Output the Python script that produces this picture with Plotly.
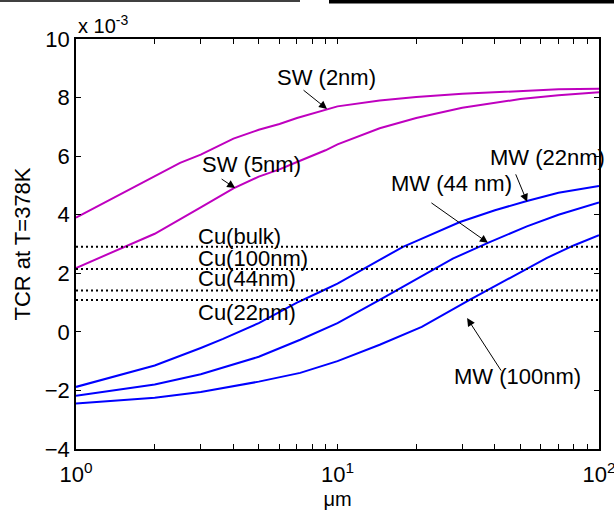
import math
import plotly.graph_objects as go

# x positions (um), y values in units of 1e-3
x_sw2 = [1, 2, 2.5, 3, 4, 5, 6, 7, 9, 10, 14.5, 20, 30, 50, 70, 100]
y_sw2 = [3.9, 5.3, 5.77, 6.05, 6.6, 6.9, 7.1, 7.3, 7.6, 7.7, 7.9, 8.02, 8.13, 8.23, 8.28, 8.3]

x_sw5 = [1, 2, 3, 4, 5, 6, 7, 9, 10, 14.5, 20, 30, 50, 70, 100]
y_sw5 = [2.18, 3.35, 4.25, 4.9, 5.3, 5.55, 5.8, 6.2, 6.4, 6.95, 7.3, 7.65, 7.95, 8.08, 8.18]

x_mw22 = [1, 2, 3, 3.65, 5, 7, 8.6, 10, 14.5, 17.8, 20, 29.4, 40, 53, 70, 100]
y_mw22 = [-1.88, -1.15, -0.55, -0.24, 0.3, 1.0, 1.37, 1.65, 2.46, 2.9, 3.1, 3.75, 4.15, 4.47, 4.75, 4.98]

x_mw44 = [1, 2, 3, 5, 7.2, 10, 14.5, 20, 27.6, 37.6, 53, 70, 100]
y_mw44 = [-2.18, -1.8, -1.45, -0.85, -0.27, 0.3, 1.09, 1.8, 2.5, 3.04, 3.6, 4.0, 4.42]

x_mw100 = [1, 2, 3, 5, 7.2, 10, 14.5, 21, 32, 45, 63, 80, 100]
y_mw100 = [-2.45, -2.25, -2.05, -1.7, -1.4, -1.0, -0.44, 0.17, 1.09, 1.8, 2.52, 2.95, 3.3]

cu_names = ["Cu(bulk)", "Cu(100nm)", "Cu(44nm)", "Cu(22nm)"]
cu_values = [2.91, 2.15, 1.41, 1.09]
cu_label_y = [3.24, 2.52, 1.81, 0.65]
cu_x = [1, 100]

x_ticks = [1, 2, 3, 4, 5, 6, 7, 8, 9, 10, 20, 30, 40, 50, 60, 70, 80, 90, 100]
x_ticktext = ["10<sup>0</sup>"] + [""] * 8 + ["10<sup>1</sup>"] + [""] * 8 + ["10<sup>2</sup>"]
y_ticks = [-4, -2, 0, 2, 4, 6, 8, 10]

MAG = "#BF00BF"
BLUE = "#0000FF"
FONT = "Liberation Sans"
FS = 22

fig = go.Figure()
for xs, ys, c in [(x_sw2, y_sw2, MAG), (x_sw5, y_sw5, MAG),
                  (x_mw22, y_mw22, BLUE), (x_mw44, y_mw44, BLUE), (x_mw100, y_mw100, BLUE)]:
    fig.add_trace(go.Scatter(x=xs, y=ys, mode="lines", line=dict(color=c, width=2),
                             showlegend=False, hoverinfo="skip"))
for v in cu_values:
    fig.add_trace(go.Scatter(x=cu_x, y=[v, v], mode="lines",
                             line=dict(color="black", width=2, dash="2px,3px"),
                             showlegend=False, hoverinfo="skip"))

ann = []
# arrows: (head x, head y, ax, ay)
arrows = [(9.12, 7.61, -25, -20), (4.06, 4.91, -15, -10), (53.1, 4.44, -12, -29),
          (37.6, 3.04, -58, -41), (31.3, 0.47, 35, 54)]
for hx, hy, ax, ay in arrows:
    ann.append(dict(x=math.log10(hx), y=hy, xref="x", yref="y", text="", showarrow=True,
                    ax=ax, ay=ay, arrowhead=2, arrowsize=1.6, arrowwidth=1,
                    arrowcolor="black", standoff=0, startstandoff=0))
labels = [("SW (2nm)", 9.05, 8.70), ("SW (5nm)", 4.71, 5.73), ("MW (22nm)", 63.6, 5.94),
          ("MW (44 nm)", 27.4, 5.08), ("MW (100nm)", 48.7, -1.51)]
for t, lx, ly in labels:
    ann.append(dict(x=math.log10(lx), y=ly, xref="x", yref="y", text=t, showarrow=False,
                    font=dict(family=FONT, size=FS, color="black")))
for name, ly in zip(cu_names, cu_label_y):
    ann.append(dict(x=math.log10(2.88), y=ly, xref="x", yref="y", text=name, showarrow=False,
                    xanchor="left", font=dict(family=FONT, size=FS, color="black")))
ann.append(dict(x=0, y=1, xref="paper", yref="paper", text="x 10<sup>-3</sup>", showarrow=False,
                xanchor="left", yanchor="bottom", font=dict(family=FONT, size=20, color="black")))

fig.update_layout(
    width=614, height=511,
    margin=dict(l=76, r=15, t=39, b=62),
    paper_bgcolor="white", plot_bgcolor="white",
    font=dict(family=FONT, size=FS, color="black"),
    annotations=ann,
    shapes=[
        dict(type="line", xref="paper", yref="paper", x0=-76/523, x1=(300-76)/523,
             y0=(449-1)/410, y1=(449-1)/410, line=dict(color="black", width=1.5)),
        dict(type="line", xref="paper", yref="paper", x0=(329-76)/523, x1=(614-76)/523,
             y0=(449-1.5)/410, y1=(449-1.5)/410, line=dict(color="black", width=4)),
    ],
    xaxis=dict(type="log", range=[0, 2], tickvals=x_ticks, ticktext=x_ticktext,
               ticks="inside", ticklen=5, tickcolor="black", mirror="ticks",
               showline=True, linecolor="black", linewidth=1.5, showgrid=False, zeroline=False,
               tickfont=dict(family=FONT, size=FS), ticklabeloverflow="allow", automargin=False,
               ticklabelstandoff=5,
               title=dict(text="μm", font=dict(family=FONT, size=20), standoff=6)),
    yaxis=dict(range=[-4, 10], tickvals=y_ticks, ticks="inside", ticklen=5, tickcolor="black",
               mirror="ticks", showline=True, linecolor="black", linewidth=1.5,
               showgrid=False, zeroline=False, tickfont=dict(family=FONT, size=FS), automargin=False,
               title=dict(text="TCR at T=378K", font=dict(family=FONT, size=FS), standoff=8)),
)

fig.write_html("out.html", config={"displayModeBar": False},
               post_script="document.body.style.margin='0';")
